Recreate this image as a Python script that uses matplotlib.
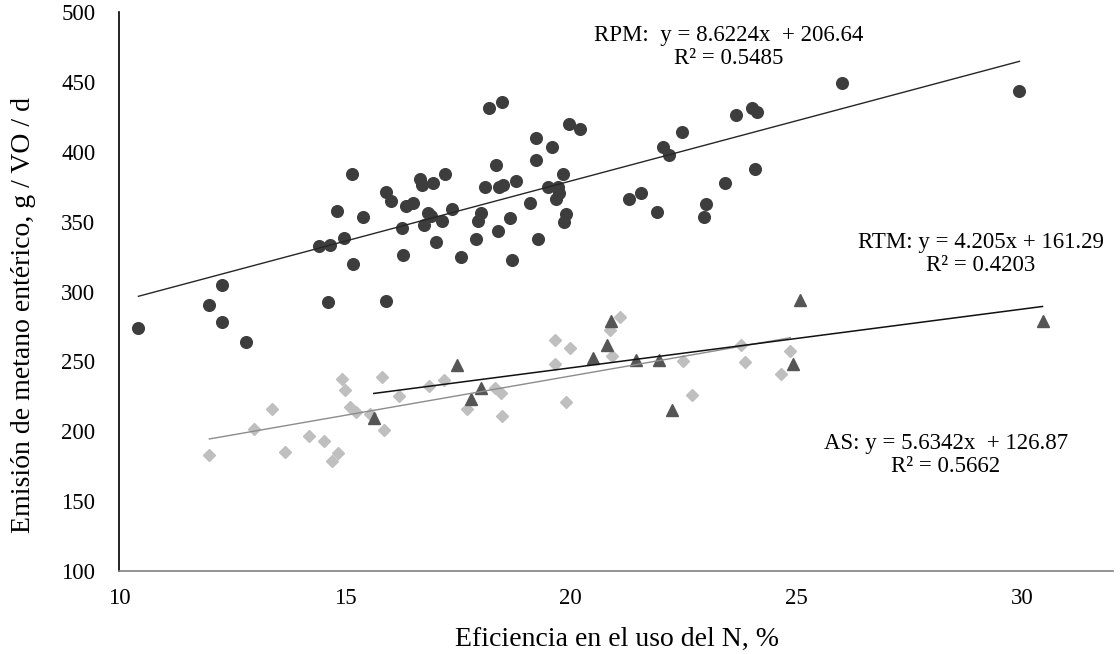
import matplotlib.pyplot as plt
import numpy as np

# RPM (circles)
rpm_x = [10.43, 11.99, 12.27, 12.27, 12.81, 14.42, 14.67, 14.98, 14.62, 14.82,
         15.15, 15.39, 15.18, 15.90, 16.02, 15.91, 16.26, 16.29, 16.36, 16.50,
         16.66, 16.70, 16.96, 17.22, 16.84, 16.90, 16.75, 17.15, 17.36, 17.01,
         17.57, 17.91, 17.94, 18.01, 18.09, 18.35, 18.20, 18.47, 18.41, 18.51,
         18.65, 18.39, 18.70, 18.78, 19.09, 19.23, 19.24, 19.28, 19.59, 19.49,
         19.71, 19.73, 19.68, 19.82, 19.90, 19.84, 19.97, 20.20, 21.28, 21.56,
         21.91, 22.05, 22.18, 22.46, 22.94, 22.99, 23.41, 23.65, 24.01, 24.13,
         24.08, 26.01, 29.93]
rpm_y = [274.1, 290.5, 305.0, 277.9, 264.1, 332.9, 333.6, 338.1, 292.4, 357.9,
         384.3, 353.3, 319.8, 370.9, 365.0, 293.4, 345.5, 326.4, 361.4, 363.6,
         380.2, 376.2, 377.9, 384.3, 356.4, 353.8, 347.6, 350.5, 359.1, 335.7,
         325.0, 337.4, 350.5, 355.9, 374.5, 390.2, 431.2, 435.5, 374.8, 376.2,
         352.9, 343.1, 322.6, 379.3, 363.6, 409.8, 393.8, 337.4, 403.1, 375.0,
         374.5, 370.5, 365.9, 384.3, 355.2, 349.8, 420.2, 416.4, 365.9, 370.2,
         357.1, 403.6, 397.9, 414.3, 353.6, 362.6, 377.6, 426.2, 431.6, 428.8,
         387.9, 449.3, 443.6]

# AS (diamonds)
as_x = [12.00, 12.99, 13.38, 13.67, 14.20, 14.54, 14.84, 14.71, 14.94, 15.00,
        15.12, 15.24, 15.55, 15.83, 15.87, 16.20, 16.87, 17.20, 17.71, 18.33,
        18.45, 18.47, 19.65, 19.65, 19.98, 19.90, 21.08, 20.86, 20.92, 22.48,
        22.69, 23.77, 23.86, 24.65, 24.86]
as_y = [183.1, 201.9, 216.2, 185.2, 196.4, 193.3, 184.5, 178.6, 237.1, 229.3,
        217.1, 213.6, 212.1, 238.8, 200.7, 225.2, 232.1, 236.4, 216.2, 230.7,
        227.6, 210.7, 265.0, 248.4, 259.3, 221.2, 282.1, 272.6, 253.6, 250.2,
        226.2, 261.9, 249.3, 240.9, 257.1]

# RTM (triangles)
rtm_x = [15.64, 17.49, 17.78, 18.02, 20.49, 20.79, 20.90, 21.45, 21.95, 22.23,
         24.92, 25.07, 30.44]
rtm_y = [209.8, 247.6, 222.9, 231.2, 252.6, 261.9, 278.8, 251.2, 250.7, 215.5,
         248.4, 293.6, 278.8]

# trend line coefficients (slope, intercept)
rpm_fit = (8.6224, 206.64)
rtm_fit = (4.205, 161.29)
as_fit = (5.6342, 126.87)

plt.rcParams['font.family'] = 'Liberation Serif'

fig = plt.figure(figsize=(11.2, 6.54), dpi=100)
ax = fig.add_axes([119 / 1120, 1 - 571 / 654, (1113 - 119) / 1120, (571 - 12) / 654])

ax.plot(rpm_x, rpm_y, 'o', color='#3d3d3d', markersize=8.4, linestyle='none', zorder=3)
ax.plot(as_x, as_y, 'D', color='#bfbfbf', markersize=6.3, linestyle='none', zorder=3)
ax.plot(rtm_x, rtm_y, '^', color='#555555', markersize=9, linestyle='none', zorder=3)

def trend(xs, fit):
    xx = np.array([min(xs), max(xs)])
    return xx, fit[0] * xx + fit[1]

xx, yy = trend(rpm_x, rpm_fit)
ax.plot(xx, yy, color='#262626', linewidth=1.0, zorder=4)
xx, yy = trend(as_x, as_fit)
ax.plot(xx, yy, color='#8c8c8c', linewidth=1.0, zorder=4)
xx, yy = trend(rtm_x, rtm_fit)
ax.plot(xx, yy, color='#111111', linewidth=1.1, zorder=4)

ax.text(23.5, 475, 'RPM:  y = 8.6224x  + 206.64\nR² = 0.5485', ha='center', va='center',
        multialignment='center', fontsize=16.5, linespacing=1.1)
ax.text(29.07, 327, 'RTM: y = 4.205x + 161.29\nR² = 0.4203', ha='center', va='center',
        multialignment='center', fontsize=16.5, linespacing=1.1)
ax.text(28.3, 183, 'AS: y = 5.6342x  + 126.87\nR² = 0.5662', ha='center', va='center',
        multialignment='center', fontsize=16.5, linespacing=1.1)

ax.set_xlim(10, 32)
ax.set_ylim(100, 500)
ax.set_xticks([10, 15, 20, 25, 30])
ax.set_yticks(np.arange(100, 501, 50))
ax.tick_params(axis='both', length=0, labelsize=16.5)
ax.tick_params(axis='x', pad=12)
ax.tick_params(axis='y', pad=17)

for s in ['top', 'right']:
    ax.spines[s].set_visible(False)
ax.spines['left'].set_color('black')
ax.spines['left'].set_linewidth(1.2)
ax.spines['bottom'].set_color('#7f7f7f')
ax.spines['bottom'].set_linewidth(1.2)

fig.text(24 / 1120, 1 - 315 / 654, 'Emisión de metano entérico, g / VO / d', rotation=90,
         ha='center', va='center', fontsize=20)
fig.text(617 / 1120, 0.012, 'Eficiencia en el uso del N, %', ha='center', va='baseline',
         fontsize=20)

fig.savefig('out.png', dpi=100, facecolor='white')
